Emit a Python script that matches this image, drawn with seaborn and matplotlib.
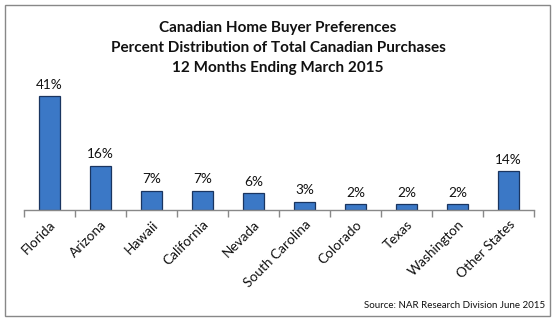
import matplotlib
matplotlib.use("Agg")
import matplotlib.pyplot as plt
import seaborn as sns
import pandas as pd
from matplotlib.patches import Rectangle
from matplotlib.ticker import FixedLocator

states = ["Florida", "Arizona", "Hawaii", "California", "Nevada",
          "South Carolina", "Colorado", "Texas", "Washington", "Other States"]
values = [41, 16, 7, 7, 6, 3, 2, 2, 2, 14]
title_lines = ["Canadian Home Buyer Preferences",
               "Percent Distribution of Total Canadian Purchases",
               "12 Months Ending March 2015"]
source = "Source: NAR Research Division June 2015"

sns.set_theme(style="white")
plt.rcParams['font.family'] = ['Lato', 'DejaVu Sans']

df = pd.DataFrame({"state": states, "value": values})

fig = plt.figure(figsize=(5.56, 3.21), dpi=100)
ax = fig.add_axes([24/556, 1-210/321, 510/556, 125/321])
sns.barplot(data=df, x="state", y="value", ax=ax, color="#3B78C6",
            width=0.42, edgecolor="#1A3560", linewidth=0.9, saturation=1)
ax.set_xlim(-0.5, len(states)-0.5)
ax.set_ylim(0, 45)
ax.set_xlabel("")
ax.set_ylabel("")
ax.set_yticks([])
for s in ["left", "right", "top"]:
    ax.spines[s].set_visible(False)
ax.spines["bottom"].set_color("#888888")
ax.spines["bottom"].set_linewidth(1)

ax.tick_params(axis="x", which="major", length=0, pad=6)
ax.xaxis.set_minor_locator(FixedLocator([i-0.5 for i in range(len(states)+1)]))
ax.tick_params(axis="x", which="minor", length=5, width=1, color="#888888", bottom=True)
plt.setp(ax.get_xticklabels(), rotation=45, ha="right", rotation_mode="anchor",
         fontsize=9.8, color="#111111")

for c in ax.containers:
    ax.bar_label(c, labels=[f"{v}%" for v in values], padding=4,
                 fontsize=9.8, color="#111111")

for i, line in enumerate(title_lines):
    fig.text(0.5, 1-(28+i*20)/321, line, ha="center", va="center",
             fontsize=11, fontweight="bold", color="#111111")

fig.text(545/556, 1-306/321, source, ha="right", va="center",
         fontsize=7, color="#111111")

fig.patches.append(Rectangle((5/556, 5/321), 545/556, 311/321, transform=fig.transFigure,
                             fill=False, edgecolor="#888888", linewidth=1))

fig.savefig("out.png", dpi=100)
